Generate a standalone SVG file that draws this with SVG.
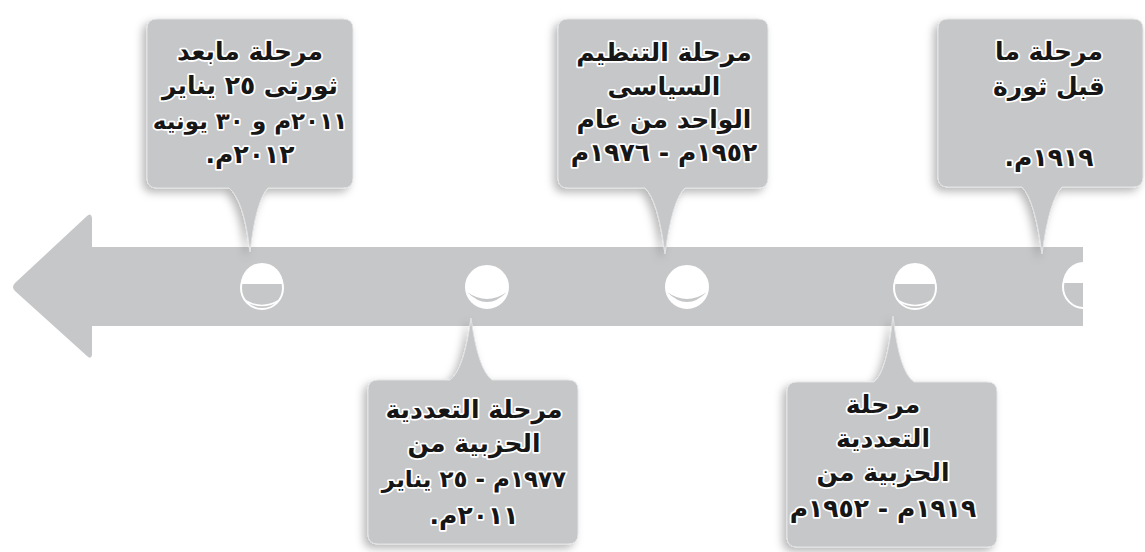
<svg xmlns="http://www.w3.org/2000/svg" width="1145" height="552" viewBox="0 0 1145 552">
<defs>
<filter id="sh" x="-20%" y="-20%" width="140%" height="140%">
<feDropShadow dx="-4" dy="4" stdDeviation="4" flood-color="#000" flood-opacity="0.28"/>
</filter>
<clipPath id="barclip"><rect x="0" y="247" width="1083" height="79"/></clipPath>
</defs>
<style>
.box{fill:#c6c7c9;stroke:#e2e3e4;stroke-width:1;filter:url(#sh)}
.bar{fill:#c6c7c9}
.t{font-family:"DejaVu Sans","Noto Sans",sans-serif;font-weight:bold;font-size:25px;fill:#161616;stroke:#ffffff;stroke-width:3.5px;stroke-linejoin:round;paint-order:stroke;text-anchor:middle}
.s{font-size:23px}
.ring{fill:none;stroke:#ffffff;stroke-width:2}
.wh{fill:#ffffff}
.gr{fill:#c6c7c9}
</style>

<g id="timeline">
<path class="bar" d="M1083,247 V326 H92 V355 Q91,360 87,356 L15,291 Q11,287 15,283 L87,216 Q91,212 92,218 V247 Z"/>
<g clip-path="url(#barclip)">
<g id="dot1"><path class="wh" d="M241,284 A21,21 0 0 1 283,284 Z"/><circle class="ring" cx="262" cy="288" r="21"/><path d="M246,301 Q262,310 278,301" fill="none" stroke="#ffffff" stroke-width="1.5"/></g>
<g id="dot2"><circle class="wh" cx="487" cy="287" r="21"/><path class="gr" d="M467,292 Q487,312 507,292 Q487,306 467,292 Z"/><circle class="ring" cx="487" cy="287" r="21"/></g>
<g id="dot3"><circle class="wh" cx="687" cy="287" r="21"/><path class="gr" d="M667,292 Q687,312 707,292 Q687,306 667,292 Z"/><circle class="ring" cx="687" cy="287" r="21"/></g>
<g id="dot4"><path class="wh" d="M894,284 A21,21 0 0 1 936,284 Z"/><circle class="ring" cx="915" cy="288" r="21"/><path d="M899,301 Q915,310 931,301" fill="none" stroke="#ffffff" stroke-width="1.5"/></g>
<g id="dot5"><path class="wh" d="M1063,283 A21,21 0 0 1 1105,283 Z"/><circle class="ring" cx="1084" cy="287" r="21"/></g>
</g>
</g>

<g id="connectors"></g>

<g id="node1">
<path class="box" d="M157,19 H343 Q353,19 353,29 V178 Q353,188 343,188 H268 Q256,200 250,252 Q244,200 229,188 H157 Q147,188 147,178 V29 Q147,19 157,19 Z"/>
<text class="t" direction="rtl" x="250" y="60">مرحلة مابعد</text>
<text class="t" direction="rtl" x="250" y="94">ثورتى ٢٥ يناير</text>
<text class="t s" direction="rtl" x="250" y="129">٢٠١١م و ٣٠ يونيه</text>
<text class="t" direction="rtl" x="250" y="163">٢٠١٢م.</text>
</g>

<g id="node2">
<path class="box" d="M568,19 H758 Q768,19 768,29 V178 Q768,188 758,188 H685 Q672,200 665,254 Q658,200 645,188 H568 Q558,188 558,178 V29 Q558,19 568,19 Z"/>
<text class="t" direction="rtl" x="664" y="61">مرحلة التنظيم</text>
<text class="t" direction="rtl" x="664" y="95">السياسى</text>
<text class="t" direction="rtl" x="664" y="128">الواحد من عام</text>
<text class="t" direction="rtl" x="664" y="161">١٩٥٢م - ١٩٧٦م</text>
</g>

<g id="node3">
<path class="box" d="M948,19 H1133 Q1143,19 1143,29 V177 Q1143,187 1133,187 H1062 Q1049,200 1042,254 Q1035,200 1022,187 H948 Q938,187 938,177 V29 Q938,19 948,19 Z"/>
<text class="t" direction="rtl" x="1049" y="60">مرحلة ما</text>
<text class="t" direction="rtl" x="1049" y="95">قبل ثورة</text>
<text class="t" direction="rtl" x="1049" y="166">١٩١٩م.</text>
</g>

<g id="node4">
<path class="box" d="M378,380 H450 Q464,370 471,318 Q478,370 492,380 H568 Q578,380 578,390 V534 Q578,544 568,544 H378 Q368,544 368,534 V390 Q368,380 378,380 Z"/>
<text class="t" direction="rtl" x="474" y="418">مرحلة التعددية</text>
<text class="t" direction="rtl" x="474" y="452">الحزبية من</text>
<text class="t s" direction="rtl" x="474" y="487">١٩٧٧م - ٢٥ يناير</text>
<text class="t" direction="rtl" x="474" y="524">٢٠١١م.</text>
</g>

<g id="node5">
<path class="box" d="M797,382 H874 Q887,372 893,316 Q899,372 914,382 H987 Q997,382 997,392 V537 Q997,547 987,547 H797 Q787,547 787,537 V392 Q787,382 797,382 Z"/>
<text class="t" direction="rtl" x="883" y="413">مرحلة</text>
<text class="t" direction="rtl" x="883" y="447">التعددية</text>
<text class="t" direction="rtl" x="883" y="481">الحزبية من</text>
<text class="t" direction="rtl" x="883" y="517">١٩١٩م - ١٩٥٢م</text>
</g>
</svg>
